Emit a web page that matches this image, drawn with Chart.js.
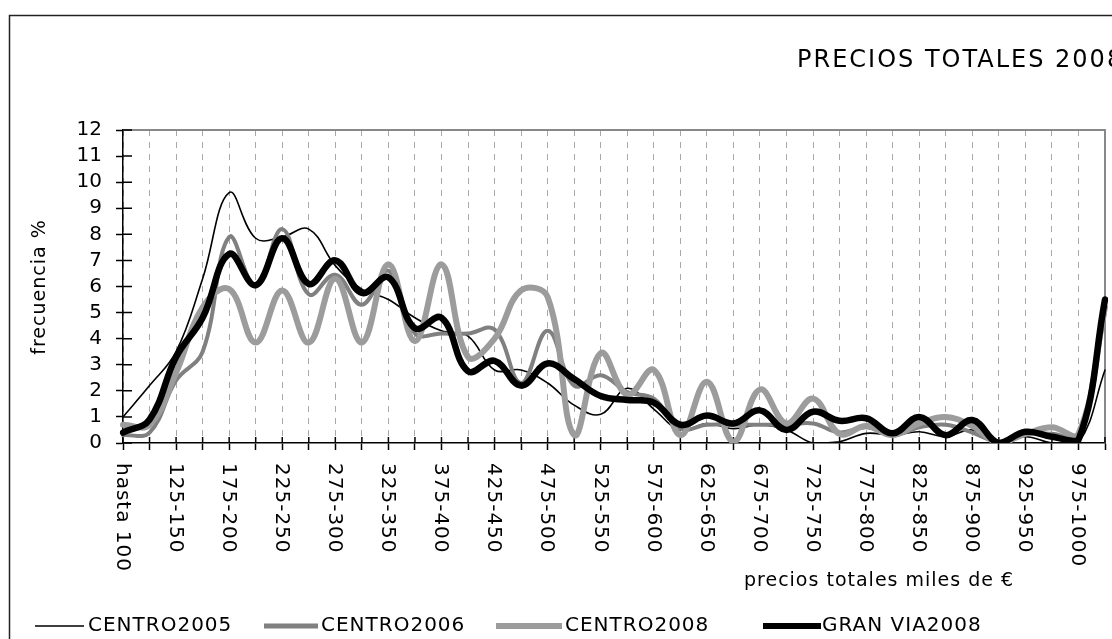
<!DOCTYPE html>
<html>
<head>
<meta charset="utf-8">
<title>Precios totales 2008</title>
<script src="https://cdn.jsdelivr.net/npm/chart.js@4.4.1/dist/chart.umd.min.js"></script>
<style>
  html, body { margin: 0; padding: 0; background: #ffffff; }
  #wrap { position: relative; width: 1112px; height: 639px; }
</style>
</head>
<body>
<div id="wrap"><canvas id="chart" width="1112" height="639"></canvas></div>
<script>
// Price bands (thousands of euros)
const categories = [
  'hasta 100', '100-125', '125-150', '150-175', '175-200', '200-225', '225-250',
  '250-275', '275-300', '300-325', '325-350', '350-375', '375-400', '400-425',
  '425-450', '450-475', '475-500', '500-525', '525-550', '550-575', '575-600',
  '600-625', '625-650', '650-675', '675-700', '700-725', '725-750', '750-775',
  '775-800', '800-825', '825-850', '850-875', '875-900', '900-925', '925-950',
  '950-975', '975-1000', 'más de 1000'
];

// Frequency (%) of each price band
const centro2005 = [
  1.0, 2.2, 3.5, 6.3, 9.6, 7.85, 7.9, 8.2, 6.8, 5.9, 5.5, 4.8, 4.3, 4.1,
  2.8, 2.8, 2.3, 1.45, 1.1, 2.1, 1.3, 0.5, 0.75, 0.55, 0.7, 0.5, 0.0, 0.05,
  0.37, 0.3, 0.43, 0.24, 0.5, 0.0, 0.24, 0.0, 0.0, 2.8
];
const centro2006 = [
  0.3, 0.4, 2.4, 3.5, 7.9, 6.0, 8.2, 5.7, 6.45, 5.3, 6.6, 4.2, 4.2, 4.2,
  4.35, 2.3, 4.3, 2.2, 2.6, 1.95, 1.7, 0.55, 0.7, 0.7, 0.7, 0.7, 0.75, 0.4,
  0.6, 0.3, 0.6, 0.7, 0.4, 0.05, 0.35, 0.35, 0.25, 5.0
];
const centro2008 = [
  0.7, 0.7, 2.7, 5.2, 5.9, 3.85, 5.85, 3.85, 6.3, 3.85, 6.85, 3.9, 6.85, 3.3,
  4.0, 5.85, 5.6, 0.3, 3.45, 1.85, 2.8, 0.3, 2.35, 0.05, 2.05, 0.75, 1.7, 0.35,
  0.65, 0.3, 0.75, 1.0, 0.65, 0.0, 0.35, 0.6, 0.35, 5.2
];
const granVia2008 = [
  0.4, 0.9, 3.3, 4.8, 7.25, 6.05, 7.85, 6.1, 7.0, 5.75, 6.35, 4.4, 4.8, 2.75,
  3.15, 2.2, 3.05, 2.45, 1.8, 1.65, 1.55, 0.7, 1.05, 0.75, 1.25, 0.5, 1.2, 0.85,
  0.95, 0.37, 1.0, 0.3, 0.88, 0.0, 0.43, 0.24, 0.12, 5.5
];

const seriesNames = ['CENTRO2005', 'CENTRO2006', 'CENTRO2008', 'GRAN VIA2008'];
const chartTitle = 'PRECIOS TOTALES 2008';
const yTitle = 'frecuencia %';
const xTitle = 'precios totales miles de \u20AC';

const FONT = '"DejaVu Sans", Verdana, sans-serif';

// Frame, title, rotated category labels, axis titles and legend
const decorations = {
  id: 'decorations',
  beforeDatasetsDraw(chart) {
    const { ctx, chartArea: a } = chart;
    ctx.save();
    // grey plot border on top and right
    ctx.strokeStyle = '#888888';
    ctx.lineWidth = 2;
    ctx.beginPath();
    ctx.moveTo(a.left, a.top);
    ctx.lineTo(a.right, a.top);
    ctx.lineTo(a.right, a.bottom);
    ctx.stroke();
    // inner halves of the crossing tick marks
    const xs = chart.scales.x, ys = chart.scales.y;
    ctx.strokeStyle = '#000';
    ctx.lineWidth = 1.5;
    ctx.beginPath();
    ys.ticks.forEach((t, i) => {
      const y = ys.getPixelForTick(i);
      ctx.moveTo(a.left, y); ctx.lineTo(a.left + 9, y);
    });
    xs.ticks.forEach((t, i) => {
      const x = xs.getPixelForTick(i);
      ctx.moveTo(x, a.bottom); ctx.lineTo(x, a.bottom - 6);
    });
    ctx.stroke();
    ctx.restore();
  },
  afterDraw(chart) {
    const { ctx, chartArea: a } = chart;
    const xs = chart.scales.x;
    ctx.save();
    // outer frame
    ctx.strokeStyle = '#222';
    ctx.lineWidth = 1.5;
    ctx.strokeRect(9.5, 15.5, 1300, 800);

    ctx.fillStyle = '#000';

    // title
    ctx.letterSpacing = '2px';
    ctx.font = '24px ' + FONT;
    ctx.textAlign = 'left';
    ctx.textBaseline = 'alphabetic';
    ctx.fillText(chartTitle, 797, 67);

    ctx.letterSpacing = '1px';
    // category labels, every second one, reading downwards
    ctx.font = '20px ' + FONT;
    ctx.textBaseline = 'middle';
    categories.forEach((lab, i) => {
      if (i % 2 !== 0) return;
      const x = xs.getPixelForValue(i);
      ctx.save();
      ctx.translate(x, a.bottom + 20);
      ctx.rotate(Math.PI / 2);
      ctx.fillText(lab, 0, 1);
      ctx.restore();
    });

    // axis titles
    ctx.font = '19px ' + FONT;
    ctx.textAlign = 'left';
    ctx.textBaseline = 'middle';
    ctx.fillText(xTitle, 744, 581);
    ctx.save();
    ctx.translate(40, 287);
    ctx.rotate(-Math.PI / 2);
    ctx.textAlign = 'center';
    ctx.fillText(yTitle, 0, 0);
    ctx.restore();

    // legend
    const legendY = 626;
    const entries = [
      { line: [35, 84], text: 88 },
      { line: [264, 318], text: 321 },
      { line: [496, 562], text: 565 },
      { line: [763, 821], text: 822 }
    ];
    ctx.font = '20px ' + FONT;
    ctx.textAlign = 'left';
    entries.forEach((e, i) => {
      const ds = chart.data.datasets[i];
      ctx.strokeStyle = ds.borderColor;
      ctx.lineWidth = ds.legendWidth;
      ctx.lineCap = 'butt';
      ctx.beginPath();
      ctx.moveTo(e.line[0], legendY);
      ctx.lineTo(e.line[1], legendY);
      ctx.stroke();
      ctx.fillText(seriesNames[i], e.text, legendY);
    });
    ctx.restore();
  }
};

new Chart(document.getElementById('chart'), {
  type: 'line',
  data: {
    labels: categories,
    datasets: [
      { label: seriesNames[0], data: centro2005, borderColor: '#000000', borderWidth: 1.6, legendWidth: 1.6, order: 3 },
      { label: seriesNames[1], data: centro2006, borderColor: '#808080', borderWidth: 4, legendWidth: 5, order: 2 },
      { label: seriesNames[2], data: centro2008, borderColor: '#9c9c9c', borderWidth: 6, legendWidth: 6, order: 1 },
      { label: seriesNames[3], data: granVia2008, borderColor: '#000000', borderWidth: 6.5, legendWidth: 6, order: 0 }
    ]
  },
  options: {
    responsive: false,
    animation: false,
    devicePixelRatio: 1,
    layout: { padding: { left: 0, top: 130, right: 7, bottom: 0 } },
    elements: {
      point: { radius: 0, hoverRadius: 0 },
      line: { tension: 0.4, fill: false, borderJoinStyle: 'round', borderCapStyle: 'round' }
    },
    plugins: {
      legend: { display: false },
      title: { display: false },
      tooltip: { enabled: false }
    },
    scales: {
      x: {
        type: 'category',
        offset: false,
        afterFit(scale) { scale.height = 196; },
        ticks: { display: false, autoSkip: false },
        grid: {
          display: true,
          drawOnChartArea: true,
          drawTicks: true,
          tickLength: 7,
          color: '#a8a8a8',
          lineWidth: 1,
          tickColor: '#000000',
          tickWidth: 1.5,
          tickBorderDash: []
        },
        border: { display: true, color: '#000000', width: 1.5, dash: [6, 6] }
      },
      y: {
        min: 0,
        max: 12,
        afterFit(scale) { scale.width = 123; },
        ticks: {
          stepSize: 1,
          autoSkip: false,
          padding: 14,
          color: '#000000',
          font: { family: FONT, size: 20 }
        },
        grid: {
          display: true,
          drawOnChartArea: false,
          drawTicks: true,
          tickLength: 7,
          tickColor: '#000000',
          tickWidth: 1.5
        },
        border: { display: true, color: '#000000', width: 1.5 }
      }
    }
  },
  plugins: [decorations]
});
</script>
</body>
</html>
